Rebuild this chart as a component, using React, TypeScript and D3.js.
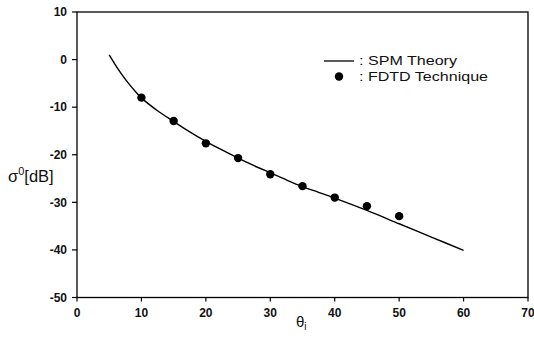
import React from "react";
import * as d3 from "d3";

const theoryAngles = [5, 6, 7, 8, 9, 10, 12.5, 15, 17.5, 20, 22.5, 25, 27.5, 30, 32.5, 35, 37.5, 40, 45, 50, 55, 60];
const theoryValues = [1.0, -1.2, -3.2, -5.0, -6.6, -8.05, -10.75, -13.0, -15.2, -17.2, -19.0, -20.7, -22.3, -23.8, -25.3, -26.7, -27.9, -29.1, -31.7, -34.5, -37.3, -40.1];
const fdtdAngles = [10, 15, 20, 25, 30, 35, 40, 45, 50];
const fdtdValues = [-8.0, -12.9, -17.6, -20.7, -24.1, -26.6, -29.0, -30.8, -32.9];
const xTicks = [0, 10, 20, 30, 40, 50, 60, 70];
const yTicks = [10, 0, -10, -20, -30, -40, -50];
const legendLabels = [": SPM Theory", ": FDTD Technique"];

const W = 534, H = 349;
const left = 77, right = 528, top = 12, bottom = 297.5;

export default function App() {
  const x = d3.scaleLinear().domain([0, 70]).range([left, right]);
  const y = d3.scaleLinear().domain([-50, 10]).range([bottom, top]);
  const line = d3.line<number>()
    .x((_, i) => x(theoryAngles[i]))
    .y((d) => y(d))
    .curve(d3.curveCatmullRom);
  const font = "Arial, 'Liberation Sans', sans-serif";
  return (
    <svg width={W} height={H} style={{ position: "absolute", left: 0, top: 0, background: "#fff" }} fontFamily={font}>
      <rect x={0} y={0} width={W} height={H} fill="#fff" />
      {/* frame */}
      <rect x={left} y={top} width={right - left} height={bottom - top} fill="none" stroke="#000" strokeWidth={1.3} />
      {/* y ticks */}
      {yTicks.map((t) => (
        <g key={"y" + t}>
          <line x1={left - 5} x2={left} y1={y(t)} y2={y(t)} stroke="#000" strokeWidth={1.2} />
          <text x={left - 10} y={y(t)} dy="0.36em" textAnchor="end" fontSize={12} fontWeight="bold" fill="#111">{t}</text>
        </g>
      ))}
      {/* x ticks */}
      {xTicks.map((t) => (
        <g key={"x" + t}>
          <line x1={x(t)} x2={x(t)} y1={bottom} y2={bottom + 4} stroke="#000" strokeWidth={1.2} />
          <text x={x(t)} y={317} textAnchor="middle" fontSize={12} fontWeight="bold" fill="#111">{t}</text>
        </g>
      ))}
      {/* axis labels */}
      <text x={8} y={182} fontSize={16.5} fill="#111">
        σ<tspan dy={-7} fontSize={11}>0</tspan><tspan dy={7}>[dB]</tspan>
      </text>
      <text x={296} y={327} fontSize={15} fill="#111">
        θ<tspan dy={3} fontSize={10}>i</tspan>
      </text>
      {/* theory line */}
      <path d={line(theoryValues) || ""} fill="none" stroke="#000" strokeWidth={1.4} />
      {/* fdtd points */}
      {fdtdAngles.map((a, i) => (
        <circle key={"p" + a} cx={x(a)} cy={y(fdtdValues[i])} r={4.2} fill="#000" />
      ))}
      {/* legend */}
      <line x1={324} x2={354} y1={61} y2={61} stroke="#000" strokeWidth={1.3} />
      <text x={359} y={65} fontSize={13.5} fill="#111" textLength={98} lengthAdjust="spacingAndGlyphs">{legendLabels[0]}</text>
      <circle cx={339} cy={76.5} r={4.2} fill="#000" />
      <text x={359} y={81} fontSize={13.5} fill="#111" textLength={129} lengthAdjust="spacingAndGlyphs">{legendLabels[1]}</text>
    </svg>
  );
}
